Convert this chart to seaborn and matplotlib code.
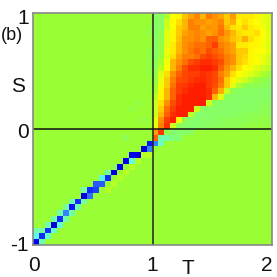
import numpy as np
import seaborn as sns
import matplotlib.pyplot as plt
from matplotlib.colors import LinearSegmentedColormap

# background level of the map
background = 55

# upper right quadrant, T from 1 to 2, rows from S=1 down to S=0
upper_right = [
    [48, 48, 57, 65, 66, 71, 74, 77, 72, 79, 76, 74, 70, 75, 67, 67, 67, 66, 63, 61],
    [48, 48, 60, 65, 68, 72, 78, 76, 76, 74, 75, 77, 70, 73, 66, 68, 66, 65, 63, 61],
    [48, 48, 60, 65, 70, 72, 78, 78, 74, 76, 75, 79, 72, 68, 67, 70, 67, 66, 64, 61],
    [48, 50, 62, 66, 70, 74, 76, 77, 76, 74, 76, 80, 75, 72, 68, 67, 67, 68, 65, 62],
    [48, 50, 62, 66, 71, 76, 76, 78, 76, 82, 82, 76, 74, 71, 69, 73, 68, 66, 65, 62],
    [48, 52, 62, 67, 72, 76, 78, 80, 80, 82, 86, 78, 76, 74, 67, 67, 66, 66, 64, 61],
    [48, 52, 63, 67, 72, 76, 79, 82, 80, 84, 82, 80, 76, 74, 70, 70, 66, 65, 65, 62],
    [48, 54, 62, 68, 74, 78, 78, 80, 84, 86, 84, 82, 78, 76, 70, 69, 66, 64, 63, 60],
    [50, 56, 64, 72, 76, 80, 84, 86, 88, 88, 86, 84, 78, 76, 70, 68, 66, 65, 63, 60],
    [50, 58, 65, 72, 78, 84, 88, 88, 90, 90, 88, 82, 76, 72, 68, 65, 64, 62, 60, 58],
    [52, 62, 68, 76, 82, 85, 86, 86, 88, 87, 85, 78, 74, 68, 65, 63, 61, 59, 57, 55],
    [52, 63, 70, 78, 84, 85, 87, 88, 89, 87, 85, 80, 70, 66, 62, 60, 57, 54, 52, 50],
    [55, 64, 70, 80, 86, 87, 89, 90, 90, 87, 84, 78, 70, 62, 57, 52, 50, 50, 50, 50],
    [56, 66, 72, 82, 86, 88, 90, 90, 90, 88, 82, 73, 60, 50, 49, 48, 48, 48, 48, 48],
    [58, 66, 72, 82, 88, 90, 90, 90, 90, 88, 72, 62, 49, 48, 48, 48, 48, 48, 48, 48],
    [60, 68, 76, 84, 88, 90, 90, 90, 90, 60, 49, 48, 48, 48, 48, 48, 48, 48, 49, 49],
    [60, 70, 80, 86, 90, 90, 90, 60, 48, 48, 48, 48, 48, 48, 48, 48, 48, 49, 50, 50],
    [60, 72, 82, 88, 90, 90, 58, 47, 47, 48, 48, 48, 48, 48, 49, 49, 50, 50, 51, 51],
    [62, 76, 86, 90, 66, 50, 47, 47, 48, 48, 48, 49, 49, 50, 50, 50, 51, 52, 52, 52],
    [62, 78, 88, 60, 50, 48, 47, 47, 48, 48, 49, 49, 50, 50, 50, 52, 53, 53, 53, 53],
]

# blue line along the diagonal: column, row from the bottom, value
line_cols = [0, 1, 2, 3, 4, 5, 6, 7, 8, 9, 9, 10, 10, 11, 12, 13, 14, 15, 16, 16, 17, 18, 19, 19]
line_rows = [0, 1, 2, 3, 4, 5, 6, 7, 8, 9, 8, 9, 10, 10, 11, 12, 13, 14, 14, 15, 15, 16, 16, 17]
line_vals = [10, 14, 14, 6, 14, 22, 12, 14, 6, 14, 20, 16, 18, 18, 14, 6, 8, 8, 36, 8, 6, 6, 22, 12]

# lighter cells next to the line
side_cols = [0, 1, 0, 1, 2, 2, 3, 3, 4, 4, 5, 5, 6, 6, 7, 8, 8, 11, 12, 13, 15]
side_rows = [1, 0, 2, 2, 1, 3, 2, 4, 3, 5, 4, 6, 7, 5, 6, 9, 7, 11, 12, 13, 18]
side_vals = [35, 40, 41, 41, 37, 41, 37, 41, 37, 41, 41, 42, 41, 41, 41, 41, 41, 34, 42, 50, 50]

# around the origin
origin_cols = [20, 21, 21, 22, 23, 24, 20, 20, 21, 22, 23, 24, 25, 26]
origin_rows = [17, 17, 18, 18, 18, 18, 18, 19, 19, 19, 19, 19, 19, 19]
origin_vals = [22, 38, 40, 40, 45, 45, 82, 74, 87, 52, 46, 47, 47, 48]

# faint patches in the flat part
faint_cols = [19, 19, 19, 19, 19, 19, 19, 17, 16, 18, 12, 13, 14, 15, 16, 17, 18, 19]
faint_rows = [37, 36, 33, 32, 31, 30, 29, 24, 23, 21, 9, 10, 11, 12, 13, 14, 15, 15]
faint_vals = [52, 52, 52, 52, 52, 52, 52, 52, 52, 52, 58, 58, 58, 58, 58, 58, 58, 58]

tick_x = ['0', '1', '2']
tick_y = ['1', '0', '-1']

# rainbow scale of the figure
levels = [0, 10, 20, 35, 45, 55, 65, 75, 90, 100]
colours = ['#0000aa', '#0000ff', '#3070ff', '#5affe6', '#80ff78', '#99ff33',
           '#ffff00', '#ff9900', '#ff1e00', '#ff0000']
cmap = LinearSegmentedColormap.from_list(
    'map', [(l / 100, c) for l, c in zip(levels, colours)])

# build the map
data = np.full((40, 40), float(background))
data[:20, 20:] = upper_right
for cols, rows, vals in [(faint_cols, faint_rows, faint_vals),
                         (side_cols, side_rows, side_vals),
                         (line_cols, line_rows, line_vals),
                         (origin_cols, origin_rows, origin_vals)]:
    for c, r, v in zip(cols, rows, vals):
        data[39 - r, c] = v

fig = plt.figure(figsize=(2.77, 2.77), dpi=100)
ax = fig.add_axes([33 / 277, 32 / 277, 239 / 277, 232 / 277])
sns.heatmap(data, ax=ax, cmap=cmap, vmin=0, vmax=100, cbar=False, square=False,
            xticklabels=False, yticklabels=False)

ax.axvline(20, color='#222222', lw=1.1)
ax.axhline(20, color='#111111', lw=1.1)
for s in ax.spines.values():
    s.set_visible(True)
    s.set_color('#888888')
    s.set_linewidth(1.2)

font = 'Liberation Sans'
ax.set_xticks([0.2, 20, 39.2])
ax.set_xticklabels(tick_x, fontsize=15, family=font, color='#111111', rotation=0)
ax.set_yticks([0.6, 20.3, 39.7])
ax.set_yticklabels(tick_y, fontsize=15, family=font, color='#111111', rotation=0)
ax.tick_params(length=0, pad=3)
ax.tick_params(axis='x', pad=8)

fig.text(188 / 277, 1 - 268 / 277, 'T', fontsize=15, family=font, ha='center', va='center', color='#111111')
fig.text(18 / 277, 1 - 87 / 277, 'S', fontsize=15, family=font, ha='center', va='center', color='#111111')
fig.text(12 / 277, 1 - 36 / 277, '(b)', fontsize=13, family=font, ha='center', va='center', color='#111111')

fig.savefig('out.png', dpi=100)
